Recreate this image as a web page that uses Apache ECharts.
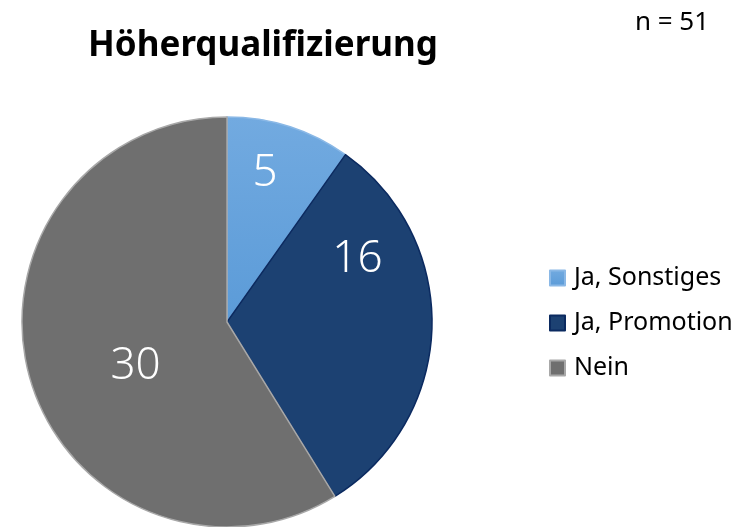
<!DOCTYPE html>
<html>
<head>
<meta charset="utf-8">
<script src="https://cdn.jsdelivr.net/npm/echarts@6/dist/echarts.min.js"></script>
<style>
  html, body { margin: 0; padding: 0; background: #ffffff; }
  #main { width: 752px; height: 527px; }
</style>
</head>
<body>
<div id="main"></div>
<script>
var categories = ['Ja, Sonstiges', 'Ja, Promotion', 'Nein'];
var values = [5, 16, 30];
var total = 51;

// Farben und Label-Versatz je Segment
var fills = [
    new echarts.graphic.LinearGradient(0, 0, 0, 1, [
        { offset: 0, color: '#72aae0' },
        { offset: 1, color: '#5b9bd8' }
    ]),
    '#1c4172',
    '#6f6f6f'
];
var borders = ['#8ab8e6', '#0b2a60', '#a8a8a8'];
var labelOffsets = [[6, -48], [25, -66], [10, 16]];

var chart = echarts.init(document.getElementById('main'));

var pieData = [];
for (var i = 0; i < categories.length; i++) {
    pieData.push({
        name: categories[i],
        value: values[i],
        itemStyle: { color: fills[i], borderColor: borders[i], borderWidth: 1.5 },
        label: { offset: labelOffsets[i] }
    });
}

var option = {
    backgroundColor: '#ffffff',
    animation: false,
    title: [
        {
            text: 'Höherqualifizierung',
            left: 258,
            top: 24,
            textAlign: 'center',
            textStyle: { fontFamily: 'Noto Sans', fontSize: 35, fontWeight: 'bold', color: '#000000' }
        },
        {
            text: 'n = ' + total,
            left: 667,
            top: 5,
            textAlign: 'center',
            textStyle: { fontFamily: 'Noto Sans', fontSize: 26, fontWeight: 'normal', color: '#000000' }
        }
    ],
    legend: {
        orient: 'vertical',
        left: 544,
        top: 260,
        itemWidth: 15,
        itemHeight: 15,
        itemGap: 19,
        icon: 'rect',
        textStyle: { fontFamily: 'Noto Sans', fontSize: 25, lineHeight: 26, color: '#000000', padding: [0, 0, 0, 4] },
        data: categories
    },
    series: [
        {
            type: 'pie',
            center: [227, 322],
            radius: [0, 205],
            startAngle: 90,
            clockwise: true,
            label: {
                show: true,
                position: 'inside',
                formatter: '{c}',
                fontFamily: 'Noto Sans',
                fontSize: 44,
                fontWeight: 300,
                color: '#ffffff'
            },
            labelLine: { show: false },
            emphasis: { disabled: true },
            data: pieData
        }
    ]
};

chart.setOption(option);
</script>
</body>
</html>
